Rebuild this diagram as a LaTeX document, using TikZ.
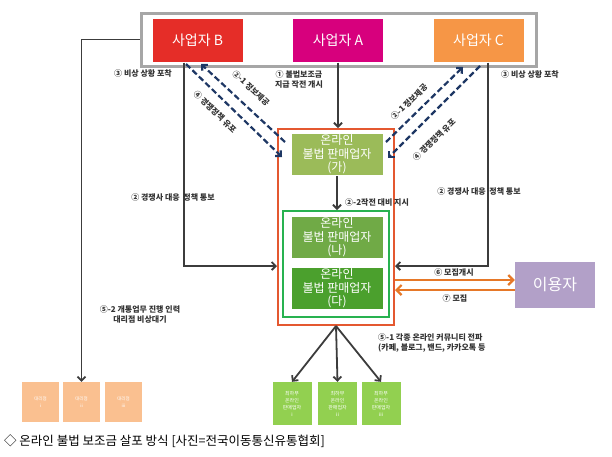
\documentclass[tikz,border=0pt]{standalone}
\usepackage{fontspec}
\setmainfont{Noto Sans CJK KR}
\usetikzlibrary{arrows.meta}
\definecolor{firmB}{RGB}{229,45,40}
\definecolor{firmA}{RGB}{215,0,125}
\definecolor{firmC}{RGB}{246,150,70}
\definecolor{sellGa}{RGB}{155,187,89}
\definecolor{sellNa}{RGB}{112,170,70}
\definecolor{sellDa}{RGB}{75,160,45}
\definecolor{frameOr}{RGB}{228,88,48}
\definecolor{frameGr}{RGB}{40,178,80}
\definecolor{userV}{RGB}{178,160,200}
\definecolor{recruitO}{RGB}{230,120,40}
\definecolor{navyD}{RGB}{30,55,100}
\definecolor{lowG}{RGB}{146,208,80}
\definecolor{agentO}{RGB}{250,192,144}
\definecolor{lineG}{RGB}{60,60,60}
\tikzset{
  firm/.style={fill=#1, draw=white, line width=1pt, text=white, minimum width=91pt, minimum height=44pt, inner sep=0pt, font=\fontsize{14}{16}\selectfont},
  seller/.style={fill=#1, draw=white, line width=1pt, text=white, minimum width=92pt, minimum height=42pt, inner sep=0pt, align=center, font=\fontsize{12}{13.5}\selectfont},
  lowbox/.style={fill=lowG, text=white, minimum width=39pt, minimum height=43pt, inner sep=0pt, align=center, font=\fontsize{5}{7}\selectfont},
  agent/.style={fill=agentO, text=white, minimum width=37pt, minimum height=40pt, inner sep=0pt, align=center, font=\fontsize{4.5}{7}\selectfont},
  conn/.style={draw=lineG, line width=1.8pt, -{Straight Barb[length=4pt,width=8pt]}},
  info/.style={draw=navyD, line width=2.2pt, dash pattern=on 6pt off 3pt, -{Straight Barb[length=4pt,width=8pt]}},
  recr/.style={draw=recruitO, line width=2.2pt, -{Straight Barb[length=5pt,width=10pt]}},
  lbl/.style={font=\fontsize{8}{10}\selectfont\bfseries, text=black!80, inner sep=1pt, align=center},
}
\begin{document}
\begin{tikzpicture}[x=1pt,y=-1pt]
\useasboundingbox (0,0) rectangle (612,456);
% 사업자
\node[draw=black!35, line width=3pt, minimum width=395pt, minimum height=53pt] (top) at (338.5,39.5) {};
\node[firm=firmB] (B) at (197.5,40) {사업자 B};
\node[firm=firmA] (A) at (338,40) {사업자 A};
\node[firm=firmC] (C) at (478.5,40) {사업자 C};
% 판매업자
\node[draw=frameOr, line width=2pt, minimum width=116pt, minimum height=196pt] (frame) at (336,227) {};
\node[draw=frameGr, line width=2pt, minimum width=106pt, minimum height=106pt] (grp) at (336,264) {};
\node[seller=sellGa] (ga) at (337,154.5) {온라인\\불법 판매업자\\(가)};
\node[seller=sellNa] (na) at (337,237.5) {온라인\\불법 판매업자\\(나)};
\node[seller=sellDa] (da) at (337,288.5) {온라인\\불법 판매업자\\(다)};
\node[fill=userV, text=white, minimum width=80pt, minimum height=46pt, font=\fontsize{16}{18}\selectfont] (user) at (555,285) {이용자};
\foreach \x/\n/\rn in {292/1/i, 337.5/2/ii, 381/3/iii}
  \node[lowbox] (low\n) at (\x,403.5) {최하부\\온라인\\판매업자\\\rn};
\foreach \x/\n/\rn in {40.5/1/i, 81.5/2/ii, 123.5/3/iii}
  \node[agent] (dl\n) at (\x,402) {대리점\\\rn};
% 연결선
\coordinate (bInfo) at (201,64);
\coordinate (bOut) at (186,64);
\coordinate (cInfo) at (463,67);
\coordinate (cOut) at (480,66);
\coordinate (gaInL) at (285,142);
\coordinate (gaTipL) at (282,157);
\coordinate (gaInR) at (386,142);
\coordinate (gaTipR) at (388,158);
\draw[conn] (A.south) -- (A.south |- frame.north);
\draw[conn] (ga.south) -- (ga.south |- grp.north);
\foreach \n in {1,2,3}
  \draw[conn] (frame.south) -- (low\n.north);
\draw[conn] (184,0 |- B.south) -- (184,266) -- (frame.west |- 0,266);
\draw[conn] (488,0 |- C.south) -- (488,266) -- (frame.east |- 0,266);
\draw[conn] (top.west) -| (dl2.north);
\draw[info] (gaInL) -- (bInfo);
\draw[info] (bOut) -- (gaTipL);
\draw[info] (gaInR) -- (cInfo);
\draw[info] (cOut) -- (gaTipR);
\draw[recr] (frame.east |- 0,280) -- (user.west |- 0,280);
\draw[recr] (user.west |- 0,290) -- (frame.east |- 0,290);
% 설명
\node[lbl] (alarmL) at (143,73) {③ 비상 상황 포착};
\node[lbl] (alarmR) at (530,74) {③ 비상 상황 포착};
\node[lbl] (start) at (299,79.5) {① 불법보조금\\지급 작전 개시};
\node[lbl, anchor=west] (order) at (344,202) {②-2작전 대비 지시};
\node[lbl] (noticeL) at (173,197) {② 경쟁사 대응 \ 정책 통보};
\node[lbl] (noticeR) at (479,191) {② 경쟁사 대응 \ 정책 통보};
\node[lbl, rotate=-43] (infoL) at (251,88) {②-1 정보제공};
\node[lbl, rotate=-44] (spreadL) at (215,112) {④ 경쟁정책 유포};
\node[lbl, rotate=44] (infoR) at (409,102) {②-1 정보제공};
\node[lbl, rotate=44] (spreadR) at (434,140) {④ 경쟁정책 유포};
\node[lbl] (openR) at (454,272) {⑥ 모집개시};
\node[lbl] (joinR) at (455,298) {⑦ 모집};
\node[lbl, align=left, anchor=west] (online) at (377,343) {⑤-1 각종 온라인 커뮤니티 전파\\(카페, 블로그, 밴드, 카카오톡 등};
\node[lbl] (standby) at (140,314) {⑤-2 개통업무 진행 인력\\대리점 비상대기};
\node[anchor=west, font=\fontsize{12.5}{14}\selectfont, inner sep=0pt] (caption) at (4,441) {◇ 온라인 불법 보조금 살포 방식 [사진=전국이동통신유통협회]};
\end{tikzpicture}
\end{document}
